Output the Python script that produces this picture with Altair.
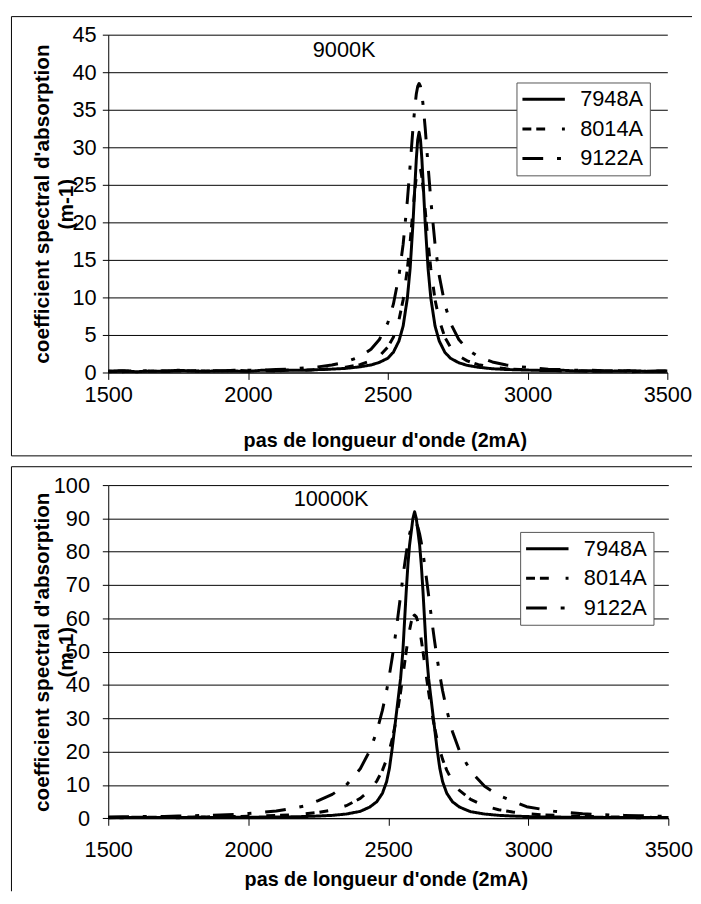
import altair as alt
import pandas as pd

FONT = "Liberation Sans"
SERIES = ["7948A", "8014A", "9122A"]
DASHES = [[1, 0], [9, 5, 9, 17], [21, 14, 4, 14]]
X_TICKS = [1500, 2000, 2500, 3000, 3500]
Y_TICKS_TOP = [0, 5, 10, 15, 20, 25, 30, 35, 40, 45]
Y_TICKS_BOT = [0, 10, 20, 30, 40, 50, 60, 70, 80, 90, 100]
X_TITLE = "pas de longueur d'onde (2mA)"
Y_TITLE = ["coefficient spectral d'absorption", "(m-1)"]

# ---- panel 1 : 9000K ----
x_top = [1500, 1550, 1600, 1650, 1700, 1750, 1800, 1850, 1900, 1950, 2000, 2050, 2100, 2150, 2200, 2250, 2300, 2350, 2400,
         2440, 2470, 2500, 2520, 2540, 2555, 2570, 2580, 2590, 2597, 2602, 2607,
         2612,
         2617, 2622, 2627, 2634, 2644, 2654, 2669, 2684, 2704, 2724, 2754, 2784, 2824,
         2874, 2924, 2974, 3024, 3074, 3124, 3174, 3224, 3274, 3324, 3374, 3424, 3474,
         3500]
top_7948 = [0.15, 0.25, 0.1, 0.2, 0.15, 0.3, 0.2, 0.15, 0.25, 0.2, 0.15, 0.3, 0.25, 0.3, 0.3, 0.38, 0.45, 0.55, 0.75,
            1.0, 1.35, 1.9, 2.7, 4.2, 6.2, 9.9, 13.9, 19.8, 24.9, 28.4, 31.0,
            32.0,
            31.0, 28.4, 24.9, 19.8, 13.9, 9.9, 6.2, 4.2, 2.7, 1.9, 1.3, 0.95, 0.7,
            0.5, 0.4, 0.35, 0.3, 0.25, 0.3, 0.2, 0.25, 0.15, 0.2, 0.25, 0.15, 0.2,
            0.2]
top_8014 = [0.2, 0.1, 0.25, 0.15, 0.2, 0.1, 0.25, 0.2, 0.15, 0.3, 0.2, 0.25, 0.2, 0.35, 0.3, 0.4, 0.5, 0.7, 1.05,
            1.55, 2.2, 3.4, 4.7, 7.0, 9.7, 13.8, 17.4, 21.6, 24.4, 26.0, 27.1,
            27.5,
            27.1, 26.0, 24.4, 21.6, 17.4, 13.8, 9.7, 7.0, 4.7, 3.4, 2.2, 1.55, 1.05,
            0.7, 0.5, 0.4, 0.3, 0.35, 0.2, 0.25, 0.15, 0.2, 0.25, 0.1, 0.2, 0.15,
            0.2]
top_9122 = [0.1, 0.2, 0.15, 0.25, 0.2, 0.2, 0.15, 0.25, 0.2, 0.25, 0.3, 0.3, 0.4, 0.45, 0.6, 0.75, 1.0, 1.4, 2.1,
            3.1, 4.4, 6.6, 9.1, 12.9, 17.1, 22.9, 27.6, 32.5, 35.4, 37.1, 38.1,
            38.5,
            38.1, 37.1, 35.4, 32.5, 27.6, 22.9, 17.1, 12.9, 9.1, 6.6, 4.4, 3.1, 2.1,
            1.4, 1.0, 0.75, 0.6, 0.45, 0.4, 0.3, 0.3, 0.25, 0.2, 0.25, 0.15, 0.2,
            0.15]

# ---- panel 2 : 10000K ----
x_bot = [1500, 1550, 1600, 1650, 1700, 1750, 1800, 1850, 1900, 1950, 2000, 2050, 2100, 2150, 2200, 2250, 2300, 2350, 2400,
         2434, 2459, 2479, 2494, 2504, 2514, 2524, 2534, 2544, 2552, 2558, 2564, 2570, 2576, 2582, 2588,
         2594,
         2600, 2606, 2612, 2618, 2624, 2630, 2636, 2644, 2654, 2664, 2674, 2684, 2694, 2709, 2729, 2754, 2794,
         2844, 2894, 2944, 2994, 3044, 3094, 3144, 3194, 3244, 3294, 3344, 3394, 3444, 3500]
bot_7948 = [0.3, 0.2, 0.35, 0.25, 0.3, 0.2, 0.35, 0.3, 0.25, 0.35, 0.3, 0.4, 0.4, 0.45, 0.55, 0.7, 0.9, 1.3, 2.1,
            3.4, 5.0, 7.5, 11.0, 15.0, 21.0, 28.0, 35.0, 42.0, 50.0, 59.0, 68.0, 76.0, 82.0, 86.0, 90.0,
            92.0,
            90.0, 86.0, 82.0, 76.0, 68.0, 59.0, 50.0, 42.0, 35.0, 28.0, 21.0, 15.0, 11.0, 7.5, 5.0, 3.4, 2.0,
            1.3, 0.9, 0.7, 0.55, 0.45, 0.4, 0.35, 0.3, 0.35, 0.25, 0.3, 0.2, 0.3, 0.25]
bot_8014 = [0.2, 0.3, 0.25, 0.35, 0.3, 0.4, 0.35, 0.45, 0.5, 0.55, 0.65, 0.75, 0.85, 1.05, 1.35, 1.8, 2.5, 3.8, 6.0,
            8.4, 11.2, 14.4, 17.7, 20.5, 23.8, 27.8, 32.5, 37.9, 42.6, 46.4, 50.0, 53.5, 56.5, 58.9, 60.5,
            61.0,
            60.5, 58.9, 56.5, 53.5, 50.0, 46.4, 42.6, 37.9, 32.5, 27.8, 23.8, 20.5, 17.7, 14.4, 11.2, 8.4, 5.7,
            3.7, 2.6, 1.9, 1.4, 1.1, 0.9, 0.75, 0.6, 0.55, 0.45, 0.4, 0.35, 0.3, 0.3]
bot_9122 = [0.45, 0.5, 0.5, 0.6, 0.6, 0.7, 0.8, 0.9, 1.05, 1.2, 1.45, 1.8, 2.2, 2.9, 3.7, 5.3, 7.2, 10.0, 14.9,
            20.3, 26.1, 32.4, 38.3, 43.0, 48.2, 54.0, 60.3, 66.9, 72.2, 76.0, 79.5, 82.7, 85.3, 87.3, 88.6,
            89.0,
            88.6, 87.3, 85.3, 82.7, 79.5, 76.0, 72.2, 66.9, 60.3, 54.0, 48.2, 43.0, 38.3, 32.4, 26.1, 20.3, 14.2,
            9.6, 6.9, 5.2, 3.5, 2.8, 2.1, 1.75, 1.4, 1.2, 1.0, 0.9, 0.8, 0.7, 0.6]


def tidy(x, cols):
    parts = [pd.DataFrame({"pas": x, "coef": v, "serie": n}) for n, v in zip(SERIES, cols)]
    return pd.concat(parts, ignore_index=True)


one = pd.DataFrame({"k": [0]})


def panel(df, ymax, yticks, label, g):
    lines = alt.Chart(df).mark_line(color="black", strokeWidth=3, strokeJoin="round").encode(
        x=alt.X("pas:Q",
                scale=alt.Scale(domain=[1500, 3500], nice=False, zero=False),
                axis=alt.Axis(values=X_TICKS, format="d", title=X_TITLE, grid=False,
                              tickSize=7, tickColor="black", domainColor="black",
                              labelFontSize=22, labelColor="black", labelPadding=g["xlp"],
                              labelFlush=False, labelOverlap=False,
                              titleFontSize=20, titleFontWeight="bold", titleColor="black",
                              titleX=g["xtx"], titleY=g["xty"], titleAlign="center",
                              titleBaseline="middle")),
        y=alt.Y("coef:Q",
                scale=alt.Scale(domain=[0, ymax], nice=False),
                axis=alt.Axis(values=yticks, format="d", title=Y_TITLE, grid=True,
                              gridColor="black", gridWidth=1,
                              tickSize=6, tickColor="black", domainColor="black",
                              labelFontSize=22, labelColor="black", labelPadding=g["ylp"],
                              labelFlush=False, labelOverlap=False,
                              titleFontSize=21, titleFontWeight="bold", titleColor="black",
                              titleAngle=270, titleX=g["ytx"], titleY=g["h"] / 2,
                              titleAlign="center", titleBaseline="middle", titleLineHeight=24)),
        strokeDash=alt.StrokeDash("serie:N",
                                  scale=alt.Scale(domain=SERIES, range=DASHES),
                                  legend=alt.Legend(title=None, orient="none",
                                                    legendX=g["lx"], legendY=g["ly"],
                                                    direction="vertical",
                                                    fillColor="white", strokeColor="#555555",
                                                    padding=6, rowPadding=8,
                                                    labelFont=FONT, labelFontSize=22,
                                                    labelColor="black", labelOffset=26,
                                                    symbolType="M-3,0H3", symbolSize=205,
                                                    symbolOffset=10.5,
                                                    symbolStrokeWidth=3,
                                                    symbolStrokeColor="black")),
    )
    tag = alt.Chart(one).mark_text(font=FONT, fontSize=22, align="left", baseline="middle",
                                   color="black").encode(
        x=alt.value(g["tx"]), y=alt.value(g["ty"]), text=alt.value(label))
    L, T, R = g["fl"], g["ft"], g["fr"]
    f_top = alt.Chart(one).mark_rule(color="black", strokeWidth=1).encode(
        x=alt.value(L), x2=alt.value(R), y=alt.value(T))
    f_left = alt.Chart(one).mark_rule(color="black", strokeWidth=1).encode(
        x=alt.value(L), y=alt.value(T), y2=alt.value(g["fb"]))
    layers = [lines, tag, f_top, f_left]
    if g.get("bottom_line"):
        layers.append(alt.Chart(one).mark_rule(color="black", strokeWidth=1).encode(
            x=alt.value(L), x2=alt.value(R), y=alt.value(g["fb"])))
    return alt.layer(*layers).properties(width=g["w"], height=g["h"])


g_top = dict(w=566, h=342, xlp=5, ylp=6.3, xtx=280, xty=69, ytx=-66,
             lx=413.3, ly=48.4, tx=207, ty=15.7,
             fl=-98, ft=-18.3, fr=591, fb=426.4, bottom_line=True)
g_bot = dict(w=567, h=337.4, xlp=15, ylp=13, xtx=281, xty=62.3, ytx=-66,
             lx=417, ly=47.4, tx=187.7, ty=14,
             fl=-98, ft=-18.6, fr=591, fb=411.2, bottom_line=False)

top = panel(tidy(x_top, [top_7948, top_8014, top_9122]), 45, Y_TICKS_TOP, "9000K", g_top)
bot = panel(tidy(x_bot, [bot_7948, bot_8014, bot_9122]), 100, Y_TICKS_BOT, "10000K", g_bot)

chart = alt.vconcat(top, bot, spacing=9).resolve_scale(
    strokeDash="independent", x="independent", y="independent"
).resolve_legend(strokeDash="independent").properties(
    padding={"left": 2.5, "top": 2.5, "right": 0, "bottom": 0}
).configure(font=FONT).configure_view(stroke=None).configure_axis(
    labelFont=FONT, titleFont=FONT)

chart.save("out.html", embed_options={"renderer": "svg", "actions": False})
